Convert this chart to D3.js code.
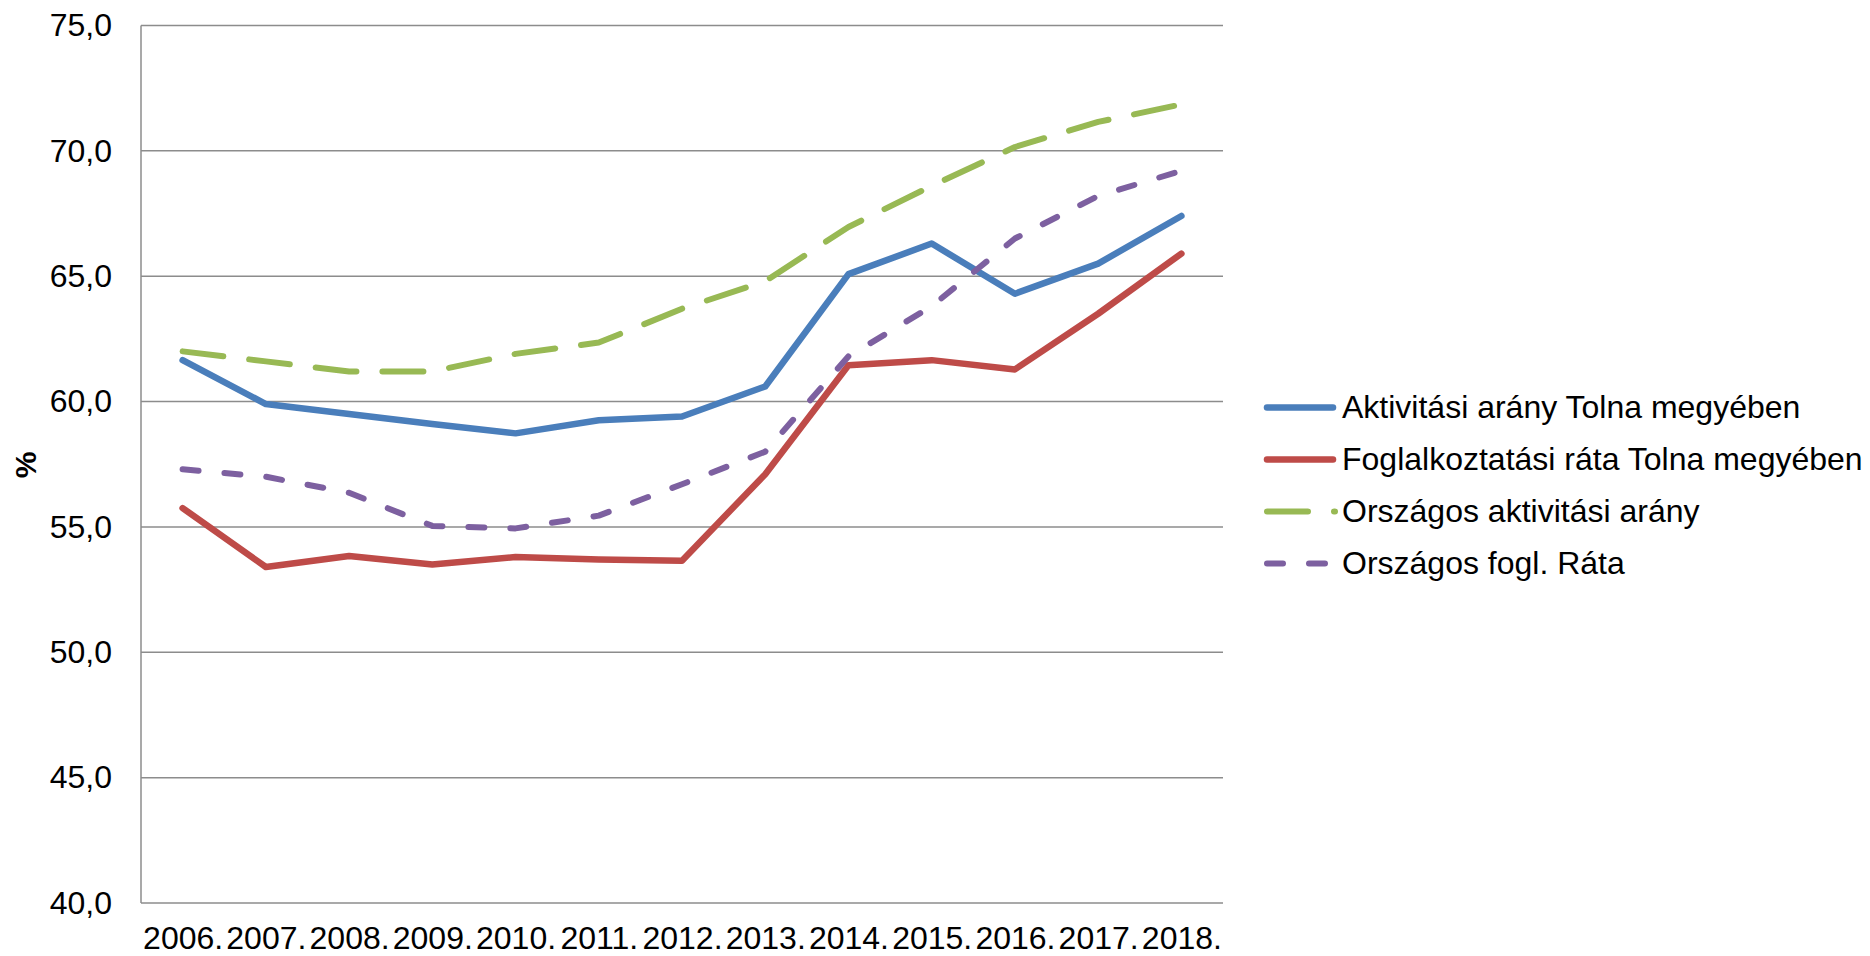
<!DOCTYPE html>
<html>
<head>
<meta charset="utf-8">
<script src="https://cdn.jsdelivr.net/npm/d3@7"></script>
<style>
  html, body { margin: 0; padding: 0; background: #fff; }
  svg { display: block; font-family: "Liberation Sans", Arial, sans-serif; }
</style>
</head>
<body>
<svg id="chart" width="1870" height="956"></svg>
<script>
const years = ["2006.","2007.","2008.","2009.","2010.","2011.","2012.","2013.","2014.","2015.","2016.","2017.","2018."];
const yTicks = [40, 45, 50, 55, 60, 65, 70, 75];
const seriesNames = [
  "Aktivitási arány Tolna megyében",
  "Foglalkoztatási ráta Tolna megyében",
  "Országos aktivitási arány",
  "Országos fogl. Ráta"
];
const aktivitasiTolna = [61.65, 59.9, 59.5, 59.1, 58.73, 59.25, 59.4, 60.6, 65.08, 66.3, 64.3, 65.5, 67.4];
const foglalkoztatasiTolna = [55.75, 53.4, 53.84, 53.5, 53.8, 53.7, 53.65, 57.1, 61.45, 61.65, 61.28, 63.5, 65.9];
const orszagosAktivitasi = [62.0, 61.6, 61.2, 61.2, 61.9, 62.35, 63.7, 64.8, 66.96, 68.6, 70.15, 71.15, 71.85];
const orszagosFogl = [57.3, 57.0, 56.36, 55.04, 54.94, 55.45, 56.7, 58.0, 61.8, 63.8, 66.5, 68.2, 69.2];

const seriesValues = [aktivitasiTolna, foglalkoztatasiTolna, orszagosAktivitasi, orszagosFogl];
const colors = ["#4A7EBB", "#BE4B48", "#98B954", "#7D60A0"];
const widths = [6.5, 6.5, 6, 6];
const dashes = [null, null, "41,26", "16,26"];

const svg = d3.select("#chart");
const plotLeft = 141, plotRight = 1223, plotTop = 25.4, plotBottom = 903;

const x = d3.scalePoint().domain(years).range([plotLeft, plotRight]).padding(0.5);
const y = d3.scaleLinear().domain([40, 75]).range([plotBottom, plotTop]);

// gridlines
svg.append("g").selectAll("line").data(yTicks).join("line")
  .attr("x1", plotLeft).attr("x2", plotRight)
  .attr("y1", d => y(d)).attr("y2", d => y(d))
  .attr("stroke", "#8c8c8c").attr("stroke-width", 1.5);

// left axis line
svg.append("line")
  .attr("x1", plotLeft).attr("x2", plotLeft).attr("y1", y(75)).attr("y2", y(40))
  .attr("stroke", "#8c8c8c").attr("stroke-width", 1.5);

// y axis labels
const yAxis = d3.axisLeft(y).tickValues(yTicks).tickSize(0).tickPadding(29)
  .tickFormat(d => d3.format(".1f")(d).replace(".", ","));
const gy = svg.append("g").attr("transform", `translate(${plotLeft},0)`).call(yAxis);
gy.select(".domain").remove();
gy.selectAll("text").attr("font-size", 32).attr("fill", "#000")
  .attr("font-family", '"Liberation Sans", Arial, sans-serif');

// x axis labels
const xAxis = d3.axisBottom(x).tickSize(0).tickPadding(23);
const gx = svg.append("g").attr("transform", `translate(0,${plotBottom})`).call(xAxis);
gx.select(".domain").remove();
gx.selectAll("text").attr("font-size", 32).attr("fill", "#000")
  .attr("font-family", '"Liberation Sans", Arial, sans-serif');

// y title
svg.append("text")
  .attr("transform", "translate(25,465) rotate(-90)")
  .attr("text-anchor", "middle").attr("dy", "0.35em")
  .attr("font-size", 30).attr("font-weight", "bold").text("%");

// lines
const line = d3.line().x((d, i) => x(years[i])).y(d => y(d));
seriesValues.forEach((vals, k) => {
  svg.append("path")
    .datum(vals)
    .attr("d", line)
    .attr("fill", "none")
    .attr("stroke", colors[k])
    .attr("stroke-width", widths[k])
    .attr("stroke-linejoin", "round")
    .attr("stroke-linecap", "round")
    .attr("stroke-dasharray", dashes[k]);
});

// legend
const lg = svg.append("g");
seriesNames.forEach((name, k) => {
  const ly = 407.5 + k * 52;
  lg.append("line")
    .attr("x1", 1267).attr("x2", k === 2 ? 1335 : 1333).attr("y1", ly).attr("y2", ly)
    .attr("stroke", colors[k]).attr("stroke-width", widths[k])
    .attr("stroke-linecap", "round")
    .attr("stroke-dasharray", dashes[k]);
  lg.append("text")
    .attr("x", 1342).attr("y", ly).attr("dy", "0.34em")
    .attr("font-size", 32).attr("fill", "#000")
    .text(name);
});
</script>
</body>
</html>
